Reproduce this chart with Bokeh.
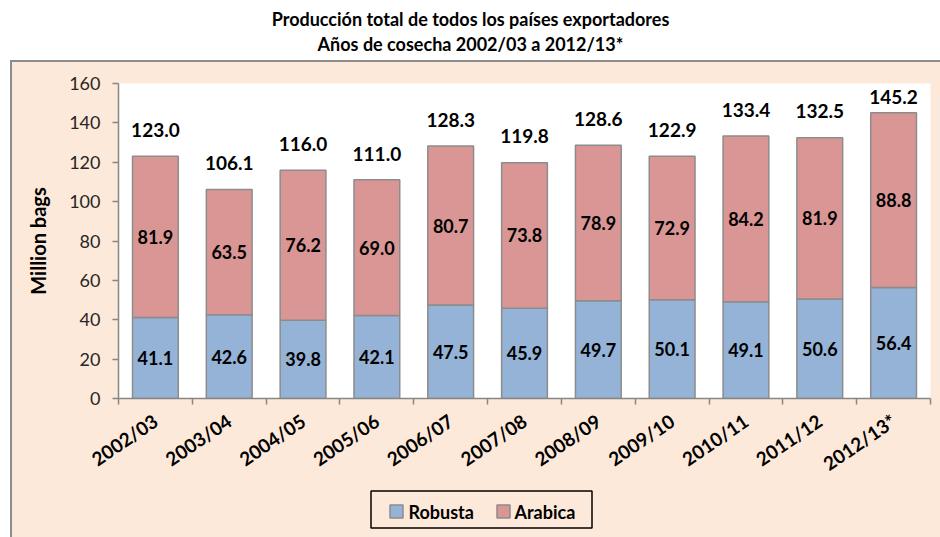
from bokeh.plotting import figure
from bokeh.models import ColumnDataSource, FixedTicker, Div, Range1d
from bokeh.layouts import column, row
from bokeh.core.properties import value
from bokeh.embed import file_html
from bokeh.resources import INLINE

# ---------------- data ----------------
seasons = ["2002/03", "2003/04", "2004/05", "2005/06", "2006/07", "2007/08",
           "2008/09", "2009/10", "2010/11", "2011/12", "2012/13*"]
robusta = [41.1, 42.6, 39.8, 42.1, 47.5, 45.9, 49.7, 50.1, 49.1, 50.6, 56.4]
arabica = [81.9, 63.5, 76.2, 69.0, 80.7, 73.8, 78.9, 72.9, 84.2, 81.9, 88.8]
totals = [123.0, 106.1, 116.0, 111.0, 128.3, 119.8, 128.6, 122.9, 133.4, 132.5, 145.2]
y_ticks = [0, 20, 40, 60, 80, 100, 120, 140, 160]
title_lines = ["Producción total de todos los países exportadores",
               "Años de cosecha 2002/03 a 2012/13*"]
y_label = "Million bags"
series_names = ["Robusta", "Arabica"]

FONT = "Lato"
BG = "#FDE9D9"
BLUE = "#95B3D7"
RED = "#D99694"
EDGE = "#8C8C8C"
AXIS = "#868686"

n = len(seasons)
xs = [i + 0.5 for i in range(n)]
src = ColumnDataSource(dict(
    x=xs,
    season=seasons,
    robusta=robusta,
    arabica=arabica,
    rob_mid=[r / 2 for r in robusta],
    ara_mid=[r + a / 2 for r, a in zip(robusta, arabica)],
    rob_txt=[f"{v:.1f}" for v in robusta],
    ara_txt=[f"{v:.1f}" for v in arabica],
    tot_y=[min(t + 13.3, 152.9) for t in totals],
    tot_txt=[f"{v:.1f}" for v in totals],
))

# ---------------- title strip ----------------
tf = figure(width=940, height=60, x_range=Range1d(0, 940), y_range=Range1d(0, 60),
            toolbar_location=None, output_backend="svg",
            x_axis_location=None, y_axis_location=None, min_border=0,
            outline_line_color=None, background_fill_color="white",
            border_fill_color="white")
tf.grid.visible = False
tf.text(x=[470, 470], y=[42, 17], text=title_lines, text_font=value(FONT),
        text_font_style="bold", text_font_size="18px", text_align="center",
        text_baseline="middle", text_color="#000000")

# ---------------- main chart ----------------
FL, FR = 106, 918   # frame left/right inside the 928-px-wide panel
p = figure(width=928, height=425, x_range=Range1d(0, n), y_range=Range1d(0, 160),
           toolbar_location=None, output_backend="svg",
           min_border_left=FL, min_border_right=928 - FR, min_border_top=21,
           min_border_bottom=87, background_fill_color="white",
           border_fill_color=BG, outline_line_color=None)
p.grid.visible = False

p.vbar_stack(["robusta", "arabica"], x="x", width=0.62, source=src,
             color=[BLUE, RED], line_color=EDGE, line_width=1.5)

lbl = dict(text_font=value(FONT), text_font_style="bold", text_align="center",
           text_baseline="middle", text_color="#000000", source=src)
p.text(x="x", y="rob_mid", text="rob_txt", text_font_size="18px", **lbl)
p.text(x="x", y="ara_mid", text="ara_txt", text_font_size="18px", **lbl)
p.text(x="x", y="tot_y", text="tot_txt", text_font_size="19px", **lbl)

# y axis
ya = p.yaxis[0]
ya.ticker = FixedTicker(ticks=y_ticks)
ya.axis_line_color = AXIS
ya.axis_line_width = 1.5
ya.major_tick_line_color = AXIS
ya.major_tick_line_width = 1.5
ya.major_tick_in = 0
ya.major_tick_out = 6
ya.minor_tick_line_color = None
ya.major_label_text_font = FONT
ya.major_label_text_font_size = "18px"
ya.major_label_text_color = "#262626"
ya.major_label_standoff = 12
ya.axis_label = y_label
ya.axis_label_text_font = FONT
ya.axis_label_text_font_style = "bold"
ya.axis_label_text_font_size = "20px"
ya.axis_label_text_color = "#000000"
ya.axis_label_standoff = 16

# x axis
xa = p.xaxis[0]
xa.ticker = FixedTicker(ticks=xs, minor_ticks=list(range(n + 1)))
xa.major_label_overrides = {x: s for x, s in zip(xs, seasons)}
xa.axis_line_color = AXIS
xa.axis_line_width = 1.5
xa.major_tick_line_color = None
xa.minor_tick_line_color = AXIS
xa.minor_tick_line_width = 1.5
xa.minor_tick_in = 0
xa.minor_tick_out = 6
xa.major_label_orientation = 0.6
xa.major_label_text_font = FONT
xa.major_label_text_font_style = "bold"
xa.major_label_text_font_size = "19px"
xa.major_label_text_color = "#000000"
xa.major_label_standoff = 14

# ---------------- legend strip (x in panel pixels; frame aligned with p) ----------------
LH = 51
lf = figure(width=928, height=LH, x_range=Range1d(FL, FR), y_range=Range1d(0, LH),
            toolbar_location=None, output_backend="svg",
            x_axis_location=None, y_axis_location=None,
            min_border_left=FL, min_border_right=928 - FR,
            min_border_top=0, min_border_bottom=0,
            outline_line_color=None, background_fill_color=BG,
            border_fill_color=BG)
try:
    lf.margin = (-1, 0, 0, 0)
except Exception:
    lf.height = 50
lf.grid.visible = False
# legend box
lf.quad(left=[358.5], right=[579.5], bottom=[9.5], top=[46.5],
        fill_color=BG, line_color="#000000", line_width=1.5)
# swatches
lf.quad(left=[377.5, 484.5], right=[390.5, 497.5], bottom=[19.5, 19.5],
        top=[32.5, 32.5], fill_color=[BLUE, RED], line_color=EDGE, line_width=1.5)
lf.text(x=[396, 502], y=[26, 26], text=series_names, text_font=value(FONT),
        text_font_style="bold", text_font_size="18px", text_align="left",
        text_baseline="middle", text_color="#000000")

# ---------------- frame borders ----------------
top_border = Div(text="", width=930, height=2, margin=(0, 0, 0, 10),
                 styles={"background-color": "#8C8C8C"})
left_border = Div(text="", width=2, height=475, margin=(0, 0, 0, 0),
                  styles={"background-color": "#8C8C8C"})
right_part = column(p, lf, spacing=0, margin=(0, 0, 0, 0),
                    styles={"background-color": BG})
body = row(left_border, right_part, margin=(0, 0, 0, 10), spacing=0)
layout = column(tf, top_border, body, spacing=0, margin=(0, 0, 0, 0))

open("out.html", "w").write(file_html(layout, INLINE))
